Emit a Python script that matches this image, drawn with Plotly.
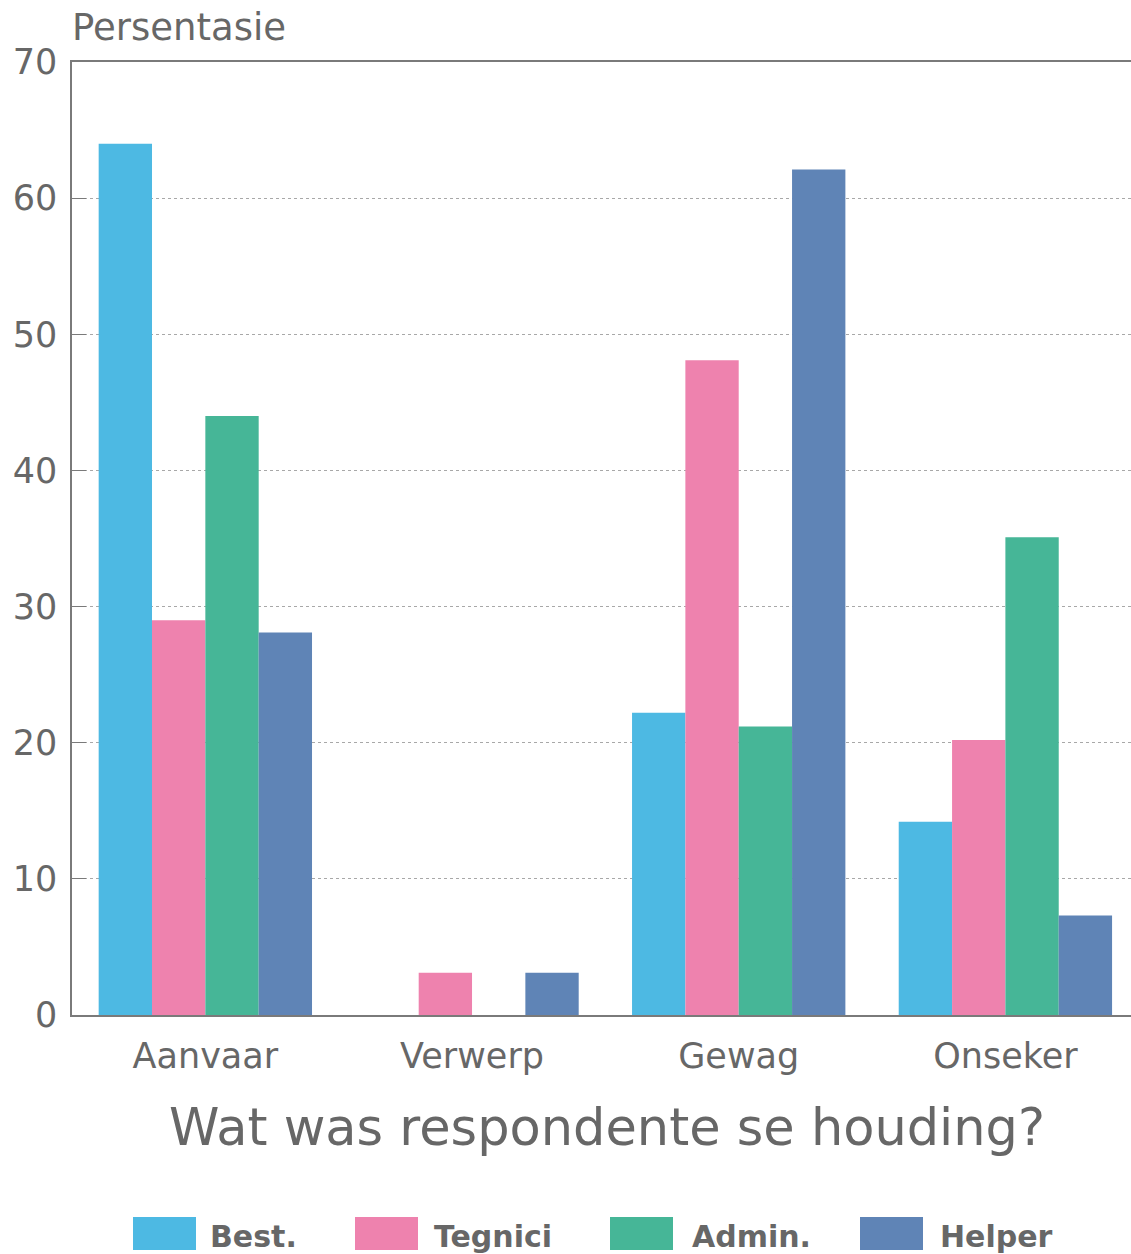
import plotly.graph_objects as go

# Categories and series values (percentages)
categories = ["Aanvaar", "Verwerp", "Gewag", "Onseker"]
series_names = ["Best.", "Tegnici", "Admin.", "Helper"]
best = [64, 0, 22.2, 14.2]
tegnici = [29, 3.1, 48.1, 20.2]
admin = [44, 0, 21.2, 35.1]
helper = [28.1, 3.1, 62.1, 7.3]
y_ticks = [0, 10, 20, 30, 40, 50, 60, 70]

colors = ["#4DB9E3", "#EE82AE", "#46B697", "#5F84B6"]
text_gray = "#676767"
line_gray = "#7a7a7a"
font_family = "DejaVu Sans"

W, H = 1131, 1254
ML, MR, MT, MB = 72, 0, 62, 239

fig = go.Figure()
for name, vals, col in zip(series_names, [best, tegnici, admin, helper], colors):
    fig.add_trace(go.Bar(
        x=categories, y=vals, name=name,
        marker=dict(color=col, line=dict(width=0)),
        showlegend=False,
    ))

fig.update_layout(
    width=W, height=H,
    margin=dict(l=ML, r=MR, t=MT, b=MB, pad=0),
    paper_bgcolor="white", plot_bgcolor="white",
    barmode="group", bargap=0.2, bargroupgap=0,
    font=dict(family=font_family, color=text_gray),
)

fig.update_xaxes(
    type="category",
    range=[-0.5, 3.471],
    showline=True, linecolor=line_gray, linewidth=1.5, mirror=True,
    showgrid=False, ticks="",
    tickfont=dict(size=35, color=text_gray, family=font_family),
    ticklabelstandoff=9,
)
fig.update_yaxes(
    range=[0, 70],
    tickvals=y_ticks,
    showline=True, linecolor=line_gray, linewidth=1.5,
    showgrid=True, gridcolor="#a8a8a8", griddash="dot", gridwidth=1,
    ticks="inside", ticklen=14, tickcolor=line_gray, tickwidth=1,
    tickfont=dict(size=35, color=text_gray, family=font_family),
    ticklabelstandoff=6,
    zeroline=False,
)

plot_w = W - ML - MR
plot_h = H - MT - MB


def px_x(px):
    return (px - ML) / plot_w


def px_y(py):
    return (H - MB - py) / plot_h


annotations = [
    dict(text="Persentasie", x=px_x(70), y=px_y(28), xref="paper", yref="paper",
         xanchor="left", yanchor="middle", showarrow=False,
         font=dict(size=37, color=text_gray, family=font_family)),
    dict(text="Wat was respondente se houding?", x=px_x(607), y=px_y(1127),
         xref="paper", yref="paper", xanchor="center", yanchor="middle",
         showarrow=False, font=dict(size=51, color=text_gray, family=font_family)),
]

# Legend: large colour swatches followed by bold labels
swatch_left = [133, 355, 610, 860]
label_left = [208, 432, 690, 938]
shapes = []
for name, col, sx, lx in zip(series_names, colors, swatch_left, label_left):
    shapes.append(dict(type="rect", xref="paper", yref="paper",
                       x0=px_x(sx), x1=px_x(sx + 63), y0=px_y(1250), y1=px_y(1217),
                       fillcolor=col, line=dict(width=0)))
    annotations.append(dict(text=f"<b>{name}</b>", x=px_x(lx), y=px_y(1236),
                            xref="paper", yref="paper", xanchor="left", yanchor="middle",
                            showarrow=False,
                            font=dict(size=30, color=text_gray, family=font_family)))

fig.update_layout(annotations=annotations, shapes=shapes)

fig.write_html("out.html")
